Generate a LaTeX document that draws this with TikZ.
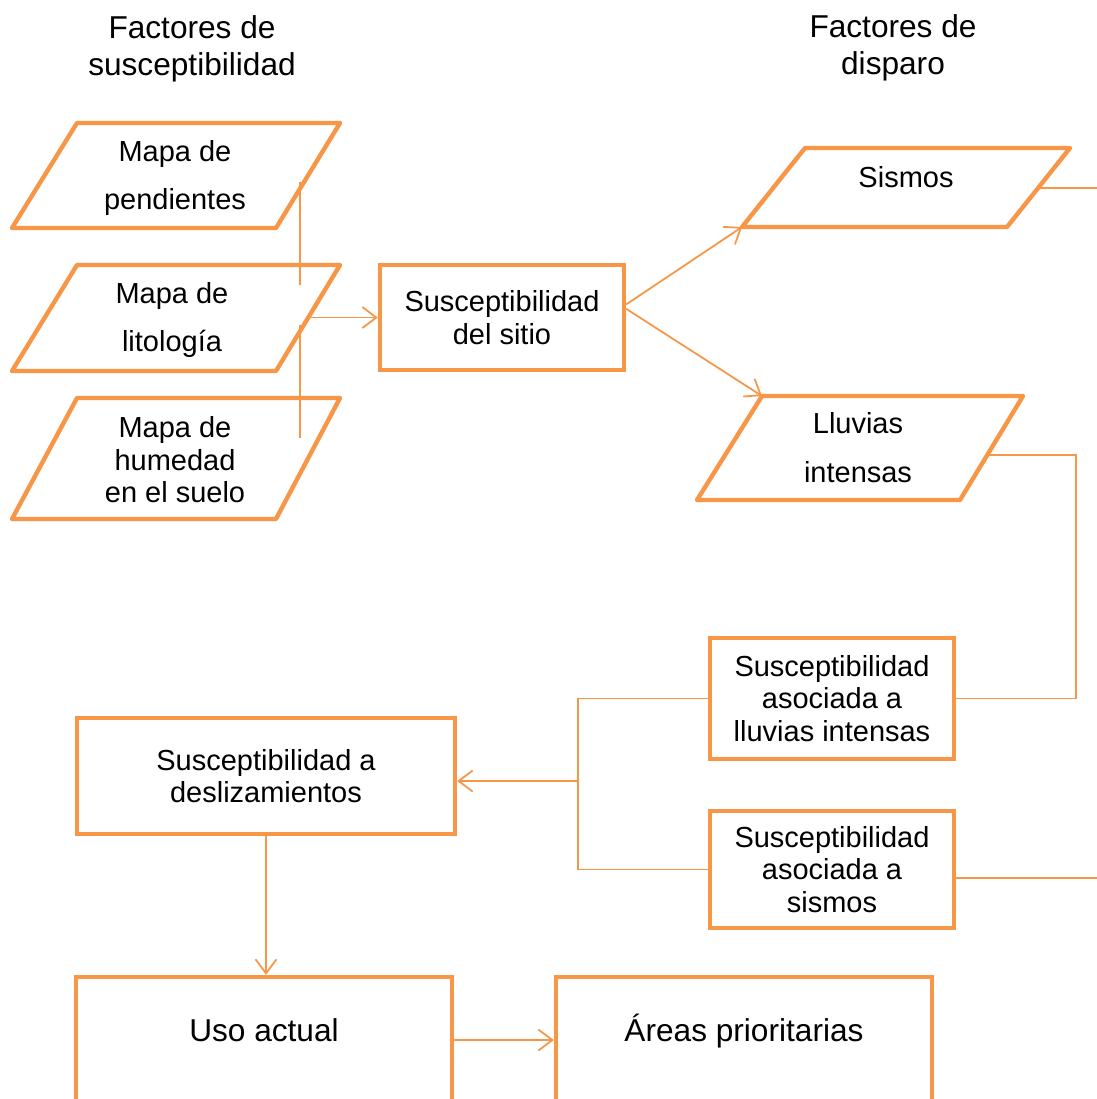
\documentclass[tikz,border=0pt]{standalone}
\usepackage{fontspec}
\setmainfont{Liberation Sans}
\usetikzlibrary{arrows.meta}
\usetikzlibrary{positioning}
\definecolor{naranja}{RGB}{247,150,70}
\tikzset{
    caja/.style={draw=naranja, line width=2.5pt, align=center, inner sep=2pt,
        font=\fontsize{16.5}{18.5}\selectfont},
    datos/.style={draw=naranja, line width=2.5pt, line join=round},
    texto/.style={align=center, inner sep=0pt, font=\fontsize{16.5}{18.5}\selectfont},
    titulo/.style={align=center, inner sep=0pt, font=\fontsize{18}{21}\selectfont},
    linea/.style={draw=naranja, line width=1pt},
    flecha/.style={draw=naranja, line width=1pt, -{Straight Barb[length=8pt,width=12pt]}},
}
\begin{document}
\begin{tikzpicture}[x=0.02cm, y=-0.02cm]
		\useasboundingbox (0,0) rectangle (1097,1099);
		% titulos
		\node[titulo] (tsus) at (192,49) {Factores de\\susceptibilidad};
		\node[titulo] (tdis) at (893,48) {Factores de\\disparo};

		% factores de susceptibilidad
		\draw[datos] (77,123) -- (340,123) -- (276,228) -- (12,228) -- cycle;
		\draw[datos] (77,265) -- (340,265) -- (276,371) -- (12,371) -- cycle;
		\draw[datos] (77,398) -- (340,398) -- (276,519) -- (12,519) -- cycle;
		\node[texto] (pend) at (175,178) {Mapa de\\[9pt]pendientes};
		\node[texto] (lito) at (172,320) {Mapa de\\[9pt]litología};
		\node[texto] (hume) at (175,460) {Mapa de\\humedad\\en el suelo};
		\coordinate (pendA) at (300,182);
		\coordinate (litoA) at (300,285);
		\coordinate (litoB) at (300,325);
		\coordinate (humeA) at (300,438);
		\coordinate (litoR) at (308,317.5);
		\draw[linea] (pendA) -- (litoA);
		\draw[linea] (litoB) -- (humeA);

		\node[caja, minimum width=4.88cm, minimum height=2.1cm] (sitio) at (502,317.5) {Susceptibilidad\\del sitio};
		\draw[flecha] (litoR) -- (sitio.west);

		% factores de disparo
		\draw[datos] (805,148) -- (1070,148) -- (1007,227) -- (742,227) coordinate (sisBL) -- cycle;
		\draw[datos] (762,396) coordinate (lluTL) -- (1023,396) -- (960,500) -- (697,500) -- cycle;
		\node[texto] (sismos) at (906,177) {Sismos};
		\node[texto] (lluvias) at (858,448) {Lluvias\\[9.5pt]intensas};
		\draw[flecha] (sitio.6) -- (sisBL);
		\draw[flecha] (sitio.4) -- (lluTL);

		\coordinate (sisR) at (1038,188);
		\coordinate (sisFin) at (1100,188);
		\draw[linea] (sisR) -- (sisFin);

		\node[caja, minimum width=4.88cm, minimum height=2.42cm] (sli) at (832,698.5) {Susceptibilidad\\asociada a\\lluvias intensas};
		\node[caja, minimum width=4.88cm, minimum height=2.34cm] (ss) at (832,869.5) {Susceptibilidad\\asociada a\\sismos};
		\coordinate (lluR) at (987,455);
		\coordinate (codo) at (1076,600);
		\draw[linea] (lluR) -| (codo) |- (sli.east);
		\coordinate (ssFin) at (1100,878);
		\draw[linea] (ss.east |- ssFin) -- (ssFin);

		\node[caja, minimum width=7.56cm, minimum height=2.32cm] (sd) at (266,776) {Susceptibilidad a\\deslizamientos};
		\coordinate (bus) at (578,781);
		\draw[linea] (sli.west) -| (bus) |- (ss.west);
		\draw[flecha] (bus) -- (sd.east |- bus);

		% resultado
		\node[caja, minimum width=7.52cm, minimum height=2.52cm, text height=13pt, text depth=11.5pt,
			font=\fontsize{18}{21}\selectfont] (uso) at (264,1040) {Uso actual};
		\node[caja, minimum width=7.52cm, minimum height=2.52cm, text height=13pt, text depth=11.5pt,
			font=\fontsize{18}{21}\selectfont] (areas) at (744,1040) {Áreas prioritarias};
		\draw[flecha] (sd.south) -- (sd.south |- uso.north);
		\draw[flecha] (uso.east) -- (areas.west);
\end{tikzpicture}
\end{document}
